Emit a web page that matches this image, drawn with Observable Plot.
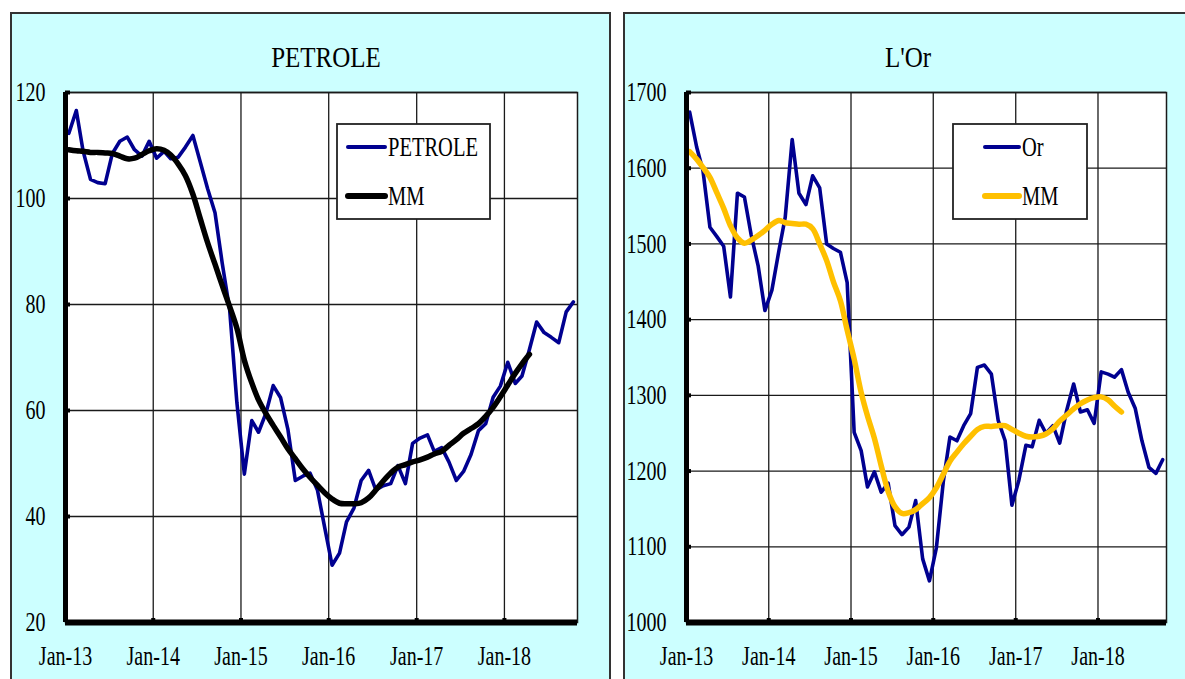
<!DOCTYPE html>
<html><head><meta charset="utf-8">
<script src="https://cdn.jsdelivr.net/npm/d3@7"></script>
<script src="https://cdn.jsdelivr.net/npm/@observablehq/plot@0.6"></script>
<style>
html,body{margin:0;padding:0;width:1185px;height:679px;overflow:hidden;background:#fff;font-family:"Liberation Serif","DejaVu Serif",serif;}
.panel{position:absolute;top:12px;height:720px;box-sizing:border-box;border:2px solid #333;background:#ccffff;}
.chart{position:absolute;top:0;}
.title{position:absolute;top:41px;width:300px;text-align:center;font-size:25px;line-height:32px;transform:scaleY(1.2);color:#000;white-space:nowrap;}
.legend{position:absolute;}
</style></head><body>
<div class="panel" style="left:10px;width:601px"></div>
<div class="panel" style="left:623px;width:620px"></div>
<div class="title" style="left:176px">PETROLE</div>
<div class="title" style="left:758px">L'Or</div>
<div id="c1" class="chart" style="left:0"></div>
<div id="c2" class="chart" style="left:610px"></div>
<script>
// ---- data ----
const startYear = 2013;
const petrole = [
  112.3, 116.6, 109.0, 103.6, 103.0, 102.8, 108.5, 110.8, 111.6, 109.2, 108.0, 110.8,
  107.6, 108.9, 107.5, 107.8, 109.7, 111.9, 107.0, 101.9, 97.3, 87.8, 79.0, 61.5,
  48.0, 58.1, 55.9, 59.5, 64.7, 62.4, 56.5, 46.8, 47.6, 48.2, 45.0, 38.0,
  30.8, 33.1, 39.0, 41.6, 46.8, 48.7, 45.0, 45.8, 46.2, 49.6, 46.2, 53.8,
  54.8, 55.4, 52.3, 53.0, 50.3, 46.8, 48.5, 51.7, 56.2, 57.5, 62.5, 64.6,
  69.1, 65.1, 66.5, 71.5, 76.7, 74.7, 73.8, 72.8, 78.6, 80.5
];
const petroleMM = [
  109.2, 109.0, 108.9, 108.7, 108.7, 108.6, 108.5, 108.0, 107.5, 107.6, 108.3, 109.0,
  109.4, 109.1, 108.2, 106.5, 104.3, 100.8, 96.3, 91.7, 87.6, 83.6, 79.6, 75.5,
  69.5, 65.2, 62.0, 59.4, 57.2, 55.0, 52.8, 50.9, 49.0, 47.4, 45.9, 44.5,
  43.3, 42.5, 42.4, 42.4, 42.6, 43.5, 45.0, 46.7, 48.2, 49.3, 49.8, 50.3,
  50.7, 51.2, 51.8, 52.3, 53.4, 54.5, 55.7, 56.6, 57.5, 58.9, 60.6, 62.6,
  64.8, 67.0, 68.8, 70.6
];
const or = [
  1674, 1628, 1597, 1522, 1510, 1497, 1430, 1567, 1562, 1512, 1471, 1412,
  1439, 1491, 1535, 1638, 1567, 1552, 1590, 1574, 1500, 1494, 1489, 1449,
  1251, 1227, 1179, 1199, 1172, 1184, 1128, 1116, 1126, 1161, 1084, 1055,
  1099, 1187, 1245, 1240, 1260, 1276, 1337, 1340, 1328, 1267, 1240, 1155,
  1188, 1234, 1232, 1267, 1250, 1260, 1237, 1280, 1315, 1278, 1281, 1263,
  1331, 1328, 1324, 1334, 1304, 1283, 1240, 1205, 1197, 1215
];
const orMM = [
  1622, 1612, 1601, 1588, 1568, 1547, 1524, 1508, 1501, 1505, 1511, 1518,
  1526, 1531, 1528, 1527, 1526, 1526, 1520, 1500, 1478, 1450, 1425, 1386,
  1348, 1304, 1273, 1243, 1207, 1173, 1153, 1144, 1145, 1149, 1157, 1165,
  1178, 1196, 1213, 1225, 1236, 1246, 1255, 1259, 1259, 1260, 1260, 1255,
  1250, 1246, 1245, 1246, 1249, 1256, 1266, 1274, 1282, 1289, 1294, 1297,
  1298, 1294, 1286, 1278
];
const xTickLabels = ["Jan-13", "Jan-14", "Jan-15", "Jan-16", "Jan-17", "Jan-18"];
const petroleTicks = [20, 40, 60, 80, 100, 120];
const orTicks = [1000, 1100, 1200, 1300, 1400, 1500, 1600, 1700];

// ---- helpers ----
const monthDate = i => new Date(Date.UTC(startYear, i, 15));
const xTickDates = xTickLabels.map((_, i) => new Date(Date.UTC(startYear + i, 0, 1)));
const xDomain = [new Date(Date.UTC(startYear, 0, 1)), new Date(Date.UTC(2018, 10, 1))];
const labelOf = new Map(xTickDates.map((d, i) => [+d, xTickLabels[i]]));
const FONT = '"Liberation Serif", "DejaVu Serif", serif';

function stretch(svg, sy) {
  svg.querySelectorAll('g[aria-label="y-axis tick label"] text, g[aria-label="x-axis tick label"] text').forEach(t => {
    t.setAttribute("transform", (t.getAttribute("transform") || "") + ` scale(1,${sy})`);
  });
}

function chart({values, mm, mmColor, yTicks, width, marginLeft, marginRight}) {
  const series = values.map((v, i) => ({date: monthDate(i), v}));
  const avg = mm.map((v, i) => ({date: monthDate(i), v}));
  const svg = Plot.plot({
    width, height: 679, marginLeft, marginRight, marginTop: 92, marginBottom: 57,
    style: {background: "transparent", fontFamily: FONT, fontSize: "20px", overflow: "visible", color: "#000"},
    x: {type: "utc", domain: xDomain, label: null},
    y: {domain: [yTicks[0], yTicks[yTicks.length - 1]], label: null},
    marks: [
      Plot.frame({fill: "white"}),
      Plot.gridX(xTickDates, {stroke: "#1a1a1a", strokeOpacity: 1, strokeWidth: 1.3}),
      Plot.gridY(yTicks, {stroke: "#1a1a1a", strokeOpacity: 1, strokeWidth: 1.3}),
      Plot.frame({stroke: "#1a1a1a", strokeWidth: 1.5}),
      Plot.line(series, {x: "date", y: "v", stroke: "#000090", strokeWidth: 3.6}),
      Plot.line(avg, {x: "date", y: "v", stroke: mmColor, strokeWidth: 5.5, curve: "catmull-rom"}),
      Plot.ruleX([xDomain[0]], {stroke: "black", strokeWidth: 5}),
      Plot.ruleY([yTicks[0]], {stroke: "black", strokeWidth: 6}),
      Plot.axisY(yTicks, {label: null, tickSize: 0, tickPadding: 20, tickFormat: d3.format("d"), fontSize: 20}),
      Plot.axisY(yTicks, {label: null, tickSize: -5, strokeWidth: 4, tickFormat: () => ""}),
      Plot.axisX(xTickDates, {label: null, tickSize: 0, tickPadding: 23, tickFormat: d => labelOf.get(+d), fontSize: 20}),
      Plot.axisX(xTickDates, {label: null, tickSize: -4, strokeWidth: 4, tickFormat: () => ""})
    ]
  });
  stretch(svg, 1.35);
  return svg;
}

function legend(left, top, w, h, x1, x2, tx, items) {
  const svg = d3.create("svg").attr("class", "legend").attr("width", w).attr("height", h)
    .style("left", left + "px").style("top", top + "px").style("overflow", "visible");
  svg.append("rect").attr("x", 1).attr("y", 1).attr("width", w - 2).attr("height", h - 2)
    .attr("fill", "white").attr("stroke", "#222").attr("stroke-width", 1.8);
  items.forEach(it => {
    svg.append("line").attr("x1", x1).attr("x2", x2).attr("y1", it.y).attr("y2", it.y)
      .attr("stroke", it.color).attr("stroke-width", it.width).attr("stroke-linecap", "round");
    svg.append("text").attr("transform", `translate(${tx},${it.y}) scale(1,1.3)`).attr("dy", "0.34em")
      .style("font-family", FONT).attr("font-size", 20.5).attr("fill", "#000").text(it.label);
  });
  document.body.appendChild(svg.node());
}

document.getElementById("c1").appendChild(chart({
  values: petrole, mm: petroleMM, mmColor: "#000000", yTicks: petroleTicks,
  width: 605, marginLeft: 65, marginRight: 28
}));
document.getElementById("c2").appendChild(chart({
  values: or, mm: orMM, mmColor: "#FFC000", yTicks: orTicks,
  width: 575, marginLeft: 76, marginRight: 19
}));

legend(336, 123, 155, 97, 12, 49, 52, [
  {label: "PETROLE", color: "#000090", y: 24, width: 4},
  {label: "MM", color: "#000000", y: 73, width: 6}
]);
legend(952, 123, 136, 97, 33, 67, 70, [
  {label: "Or", color: "#000090", y: 24, width: 4},
  {label: "MM", color: "#FFC000", y: 73, width: 6}
]);
</script>
</body></html>
